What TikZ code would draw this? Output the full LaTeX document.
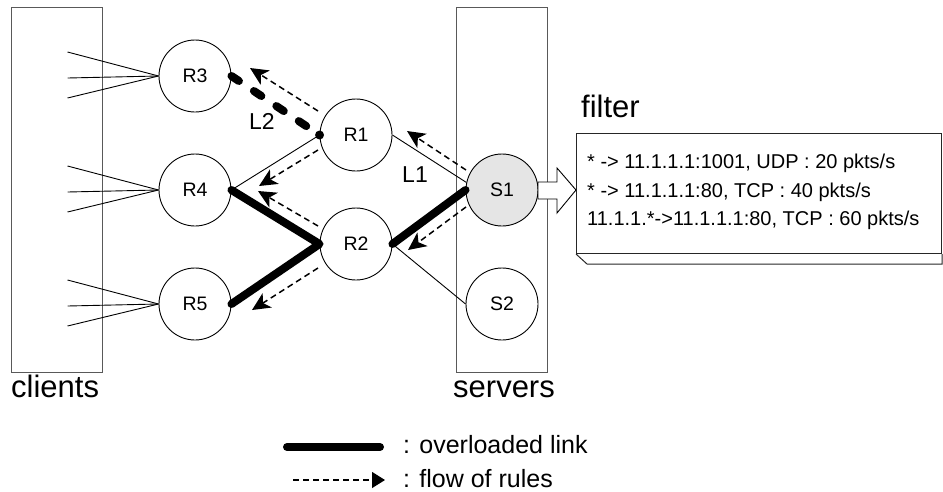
\documentclass[tikz,border=0pt]{standalone}
\usepackage{fontspec}
\setmainfont{Liberation Sans}
\usetikzlibrary{arrows.meta}
\begin{document}
\begin{tikzpicture}[x=1pt,y=-1pt,
  router/.style={circle, draw, line width=0.9pt, minimum size=72pt, inner sep=0pt, font=\fontsize{19.5}{22}\selectfont},
  groupbox/.style={draw=black!65, line width=1.2pt, minimum width=91pt, minimum height=365pt, anchor=north west, inner sep=0pt},
  linkthin/.style={line width=0.9pt},
  overload/.style={line width=8pt, line cap=round, line join=round},
  flowarrow/.style={dash pattern=on 6pt off 4pt, line width=1.5pt, -{Stealth[length=18pt,width=17pt,inset=5pt]}},
  lbl/.style={font=\fontsize{23}{26}\selectfont, inner sep=0pt},
  big/.style={font=\fontsize{31}{36}\selectfont, inner sep=0pt, anchor=base west},
  legendtext/.style={font=\fontsize{25}{28}\selectfont, inner sep=0pt, anchor=base west}
]
\useasboundingbox (0,0) rectangle (943,491);

% group boxes
\node[groupbox] (clients) at (11,7) {};
\node[groupbox] (servers) at (456,7) {};
\node[big] (clientslbl) at (11,397) {clients};
\node[big] (serverslbl) at (453,397) {servers};

% routers and servers
\node[router] (R3) at (195,76) {R3};
\node[router] (R4) at (195,190) {R4};
\node[router] (R5) at (195,304) {R5};
\node[router] (R1) at (356,135) {R1};
\node[router] (R2) at (356,244) {R2};
\node[router, fill=black!10] (S1) at (502,190) {S1};
\node[router] (S2) at (502,304) {S2};

% client fan-in lines
\foreach \r in {R3,R4,R5}{
  \foreach \dy in {-24,2,22}{
    \draw[linkthin] (\r.west) -- ++(-91,\dy);
  }
}

% thin links
\draw[linkthin] (R1.west) -- (R4.east);
\draw[linkthin] (R1.east) -- (S1.168);
\draw[linkthin] (R2.east) -- (S2.west);

% overloaded links
\draw[overload] (R4.east) -- (R2.west) -- (R5.east);
\draw[overload] (R2.east) -- (S1.west);
\draw[overload, dash pattern=on 9pt off 18pt] (R3.east) -- (R1.west);
\node[circle, fill, inner sep=0pt, minimum size=9pt] (dot) at (R1.west) {};

% link labels
\node[lbl] (L2) at (262,121) {L2};
\node[lbl] (L1) at (415,175) {L1};

% flow of rules
\coordinate (f1s) at (466,170); \coordinate (f1e) at (407,131);
\coordinate (f2s) at (318,111); \coordinate (f2e) at (250,68);
\coordinate (f3s) at (318,150); \coordinate (f3e) at (259,186);
\coordinate (f4s) at (318,226); \coordinate (f4e) at (258,191);
\coordinate (f5s) at (318,268); \coordinate (f5e) at (252,310);
\coordinate (f6s) at (466,207); \coordinate (f6e) at (408,250);
\foreach \i in {1,...,6}{ \draw[flowarrow] (f\i s) -- (f\i e); }

% filter box
\node[draw=black!85, line width=1pt, minimum width=365pt, minimum height=120pt, anchor=north west, inner sep=0pt] (filterbox) at (576,133) {};
\draw[draw=black!85, line width=1pt] (filterbox.south west) -- ++(11,10) -| (filterbox.south east);
\node[big] (filterlbl) at (581,117) {filter};
\node[font=\fontsize{20}{28.5}\selectfont, align=left, anchor=west, inner sep=0pt] (rules) at (587,192)
  {* -> 11.1.1.1:1001, UDP : 20 pkts/s\\
   * -> 11.1.1.1:80, TCP : 40 pkts/s\\
   11.1.1.*->11.1.1.1:80, TCP : 60 pkts/s};

% hollow arrow from S1 to filter
\coordinate (ftip) at (576,190);
\draw[fill=white, line width=0.9pt] (538,182) -- (557,182) -- (557,168) -- (ftip) -- (557,213) -- (557,199) -- (538,199) -- cycle;

% legend
\coordinate (lga) at (287,447); \coordinate (lgb) at (380,447);
\draw[overload] (lga) -- (lgb);
\node[legendtext] (lgt1) at (403,453) {: overloaded link};
\coordinate (lgc) at (293,480); \coordinate (lgd) at (385,480);
\draw[dash pattern=on 6pt off 4pt, line width=1.2pt, -{Triangle[length=13pt,width=16pt]}] (lgc) -- (lgd);
\node[legendtext] (lgt2) at (403,487) {: flow of rules};
\end{tikzpicture}
\end{document}
